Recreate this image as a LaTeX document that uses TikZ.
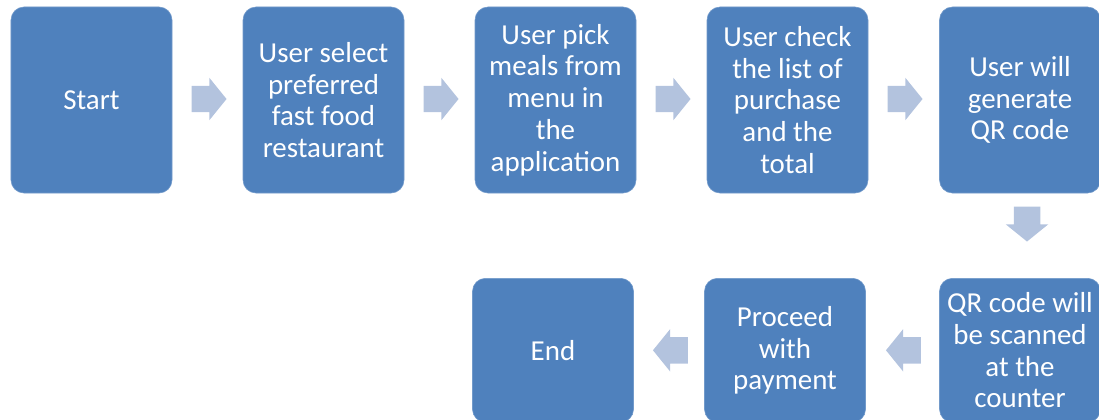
\documentclass[tikz,border=0pt]{standalone}
\usepackage{fontspec}
\setmainfont{Carlito}
\usetikzlibrary{shapes.arrows,calc}

\definecolor{boxblue}{HTML}{4F81BD}
\definecolor{arrowblue}{HTML}{B3C3DE}

\begin{document}
\begin{tikzpicture}[x=0.03cm,y=-0.03cm,
  stepbox/.style={rectangle,rounded corners=0.39cm,fill=boxblue,draw=boxblue!80!white,
    line width=0.5pt,text=white,align=center,minimum width=4.83cm,minimum height=5.58cm,
    inner sep=0pt,font=\fontsize{24.7}{27.1}\selectfont},
  lowbox/.style={stepbox,minimum height=4.32cm,anchor=north},
  flowarrow/.style={single arrow,fill=arrowblue,draw=none,minimum height=1.05cm,
    inner xsep=0pt,inner ysep=0.39cm,single arrow head extend=0.24cm,
    single arrow tip angle=102,anchor=tail},
  downarrow/.style={flowarrow,inner xsep=0.39cm,inner ysep=0pt,shape border rotate=270},
  backarrow/.style={flowarrow,shape border rotate=180}]
\clip (0,0) rectangle (1099,419);

% top row, left to right
\node[stepbox] (start) at (91.5,100) {Start};
\node[stepbox] (select) at (323.5,100) {User select\\preferred\\fast food\\restaurant};
\node[stepbox] (pick) at (555.5,100) {User pick\\meals from\\menu in\\the\\application};
\node[stepbox] (check) at (787.5,100) {User check\\the list of\\purchase\\and the\\total};
\node[stepbox] (qrgen) at (1020,100) {User will\\generate\\QR code};

% bottom row, right to left
\node[lowbox] (scan) at (1020,278) {QR code will\\be scanned\\at the\\counter};
\node[lowbox] (pay) at (785,278) {Proceed\\with\\payment};
\node[lowbox] (finish) at (553,278) {End};

% block arrows between the steps
\node[flowarrow] (a1) at ($(start.east)+(19,-1)$) {};
\node[flowarrow] (a2) at ($(select.east)+(19,-1)$) {};
\node[flowarrow] (a3) at ($(pick.east)+(19,-1)$) {};
\node[flowarrow] (a4) at ($(check.east)+(19,-1)$) {};
\node[downarrow] (a5) at ($(qrgen.south)+(7,13)$) {};
\node[backarrow] (a6) at ($(scan.west)+(-18,0)$) {};
\node[backarrow] (a7) at ($(pay.west)+(-16,0)$) {};
\end{tikzpicture}
\end{document}
